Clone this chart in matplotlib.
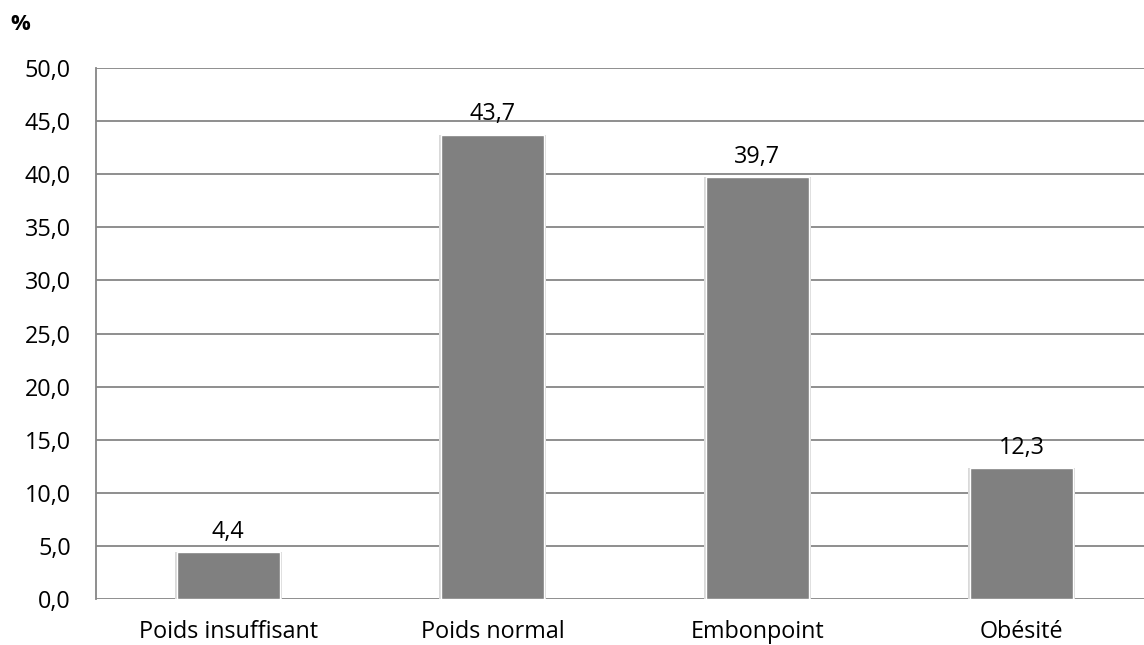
import matplotlib
matplotlib.use("Agg")
import matplotlib.pyplot as plt

categories = ["Poids insuffisant", "Poids normal", "Embonpoint", "Obésité"]
values = [4.4, 43.7, 39.7, 12.3]
yticks = [0, 5, 10, 15, 20, 25, 30, 35, 40, 45, 50]

plt.rcParams['font.family'] = ['Open Sans', 'DejaVu Sans']

W, H = 1144, 645
fig = plt.figure(figsize=(W / 100, H / 100), dpi=100)
# plot area runs off the right edge, as in the reference
left, right, top, bottom = 96, 1154, 68, 599
ax = fig.add_axes([left / W, 1 - bottom / H, (right - left) / W, (bottom - top) / H])

x = range(len(categories))
grid_col = "#868686"
for yv in yticks:
    ax.axhline(yv, color=grid_col, lw=1.3, zorder=1)

# soft shadow behind bars
ax.bar(x, values, width=0.405, color="#d9d9d9", zorder=2)
bars = ax.bar(x, values, width=0.39, color="#808080", edgecolor="white", linewidth=1.0, zorder=3)

fs = 16.8
for xi, v in zip(x, values):
    ax.text(xi, v + 0.8, f"{v:.1f}".replace(".", ","), ha="center", va="bottom",
            fontsize=fs, color="black", zorder=4)

ax.set_xlim(-0.5, 3.5)
ax.set_ylim(0, 50)
ax.set_yticks(yticks)
ax.set_yticklabels([f"{t:.1f}".replace(".", ",") for t in yticks], fontsize=fs)
ax.set_xticks(list(x))
ax.set_xticklabels(categories, fontsize=fs)
ax.tick_params(axis="y", length=0, pad=18)
ax.tick_params(axis="x", length=0, pad=15)

for s in ["top", "right", "bottom"]:
    ax.spines[s].set_visible(False)
ax.spines["left"].set_color(grid_col)
ax.spines["left"].set_linewidth(1.3)

fig.text(10 / W, 1 - 25 / H, "%", fontsize=fs - 1, fontweight="bold", va="center", ha="left")

fig.savefig("out.png", dpi=100)
